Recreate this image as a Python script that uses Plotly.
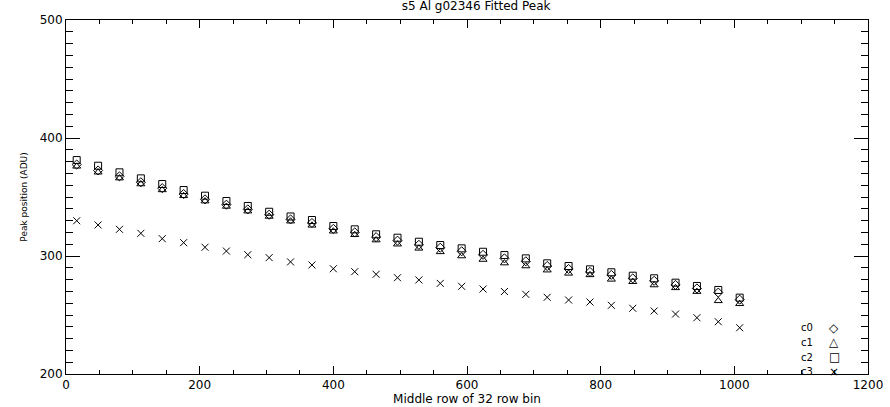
import plotly.graph_objects as go

rows = [16 + 32 * k for k in range(32)]

c0 = [377.5, 372.5, 367.5, 362.5, 357.5, 352.5, 348.0, 343.5, 339.5, 335.0,
      331.0, 328.0, 323.0, 320.0, 316.0, 313.0, 309.5, 307.0, 304.0, 301.0,
      298.0, 295.5, 291.5, 289.0, 286.5, 284.0, 281.0, 279.0, 275.5, 272.5,
      269.0, 263.0]
c1 = [376.0, 371.0, 366.0, 361.0, 356.0, 351.0, 346.5, 342.0, 338.0, 333.5,
      329.5, 326.0, 321.0, 318.0, 313.5, 310.0, 306.5, 303.5, 300.0, 297.0,
      294.0, 291.5, 288.0, 285.3, 284.0, 280.2, 278.2, 275.4, 273.0, 269.8,
      262.0, 259.5]
c2 = [381.3, 376.5, 370.9, 365.8, 361.0, 355.9, 351.1, 346.6, 342.4, 337.5,
      333.5, 330.5, 325.4, 322.6, 318.4, 315.5, 312.1, 309.3, 306.5, 303.6,
      300.8, 298.0, 293.8, 291.5, 288.7, 286.2, 283.3, 281.1, 277.4, 274.6,
      271.2, 264.7]
c3 = [329.9, 326.3, 322.6, 319.2, 314.7, 311.3, 307.4, 304.2, 301.1, 298.6,
      295.0, 292.4, 289.2, 286.7, 284.5, 281.6, 279.7, 276.8, 274.3, 272.0,
      269.9, 267.5, 265.0, 262.7, 261.0, 258.2, 255.7, 253.4, 250.8, 247.7,
      244.3, 239.2]

series = [("c0", c0, "diamond-open", "◇"),
          ("c1", c1, "triangle-up-open", "△"),
          ("c2", c2, "square-open", "□"),
          ("c3", c3, "x-thin-open", "×")]

FONT = "DejaVu Sans"
fig = go.Figure()
for name, vals, sym, _ in series:
    fig.add_trace(go.Scatter(
        x=rows, y=vals, mode="markers", name=name,
        marker=dict(symbol=sym, size=7, color="black",
                    line=dict(color="black", width=1)),
        showlegend=False))

# legend (text left, symbol right, IDL style)
for i, (name, _, _, glyph) in enumerate(series):
    yy = 0.13 - i * 0.041
    fig.add_annotation(xref="paper", yref="paper", x=0.934, y=yy,
                       text=name, showarrow=False, xanchor="right", yanchor="middle",
                       font=dict(family=FONT, size=10, color="black"))
    fig.add_annotation(xref="paper", yref="paper", x=0.958, y=yy,
                       text=glyph, showarrow=False, xanchor="center", yanchor="middle",
                       font=dict(family=FONT, size=12, color="black"))

axis_common = dict(showline=True, linecolor="black", linewidth=1, mirror="ticks",
                   ticks="inside", tickcolor="black", showgrid=False, zeroline=False,
                   automargin=False,
                   tickfont=dict(family=FONT, size=12, color="black"))
fig.update_xaxes(range=[0, 1200], dtick=200, ticklen=8,
                 minor=dict(dtick=50, ticks="inside", ticklen=4, tickcolor="black"),
                 title=dict(text="Middle row of 32 row bin", standoff=1,
                            font=dict(family=FONT, size=12, color="black")),
                 **axis_common)
fig.update_yaxes(range=[200, 500], dtick=100, ticklen=14,
                 minor=dict(dtick=10, ticks="inside", ticklen=7, tickcolor="black"),
                 title=dict(text="Peak position (ADU)", standoff=10,
                            font=dict(family=FONT, size=9, color="black")),
                 **axis_common)

fig.update_layout(
    width=890, height=407,
    margin=dict(l=66, r=22, t=20, b=33, autoexpand=False),
    paper_bgcolor="white", plot_bgcolor="white",
    title=dict(text="s5 Al g02346 Fitted Peak", x=0.535, xanchor="center",
               yref="container", y=0.997, yanchor="top", pad=dict(t=0, b=0),
               automargin=False,
               font=dict(family=FONT, size=12, color="black")),
)

# remove the page's default 8px body margin so the figure fills the window
fig.write_html("out.html",
               config={"displayModeBar": False},
               post_script="document.body.style.margin='0px';document.body.style.overflow='hidden';")
